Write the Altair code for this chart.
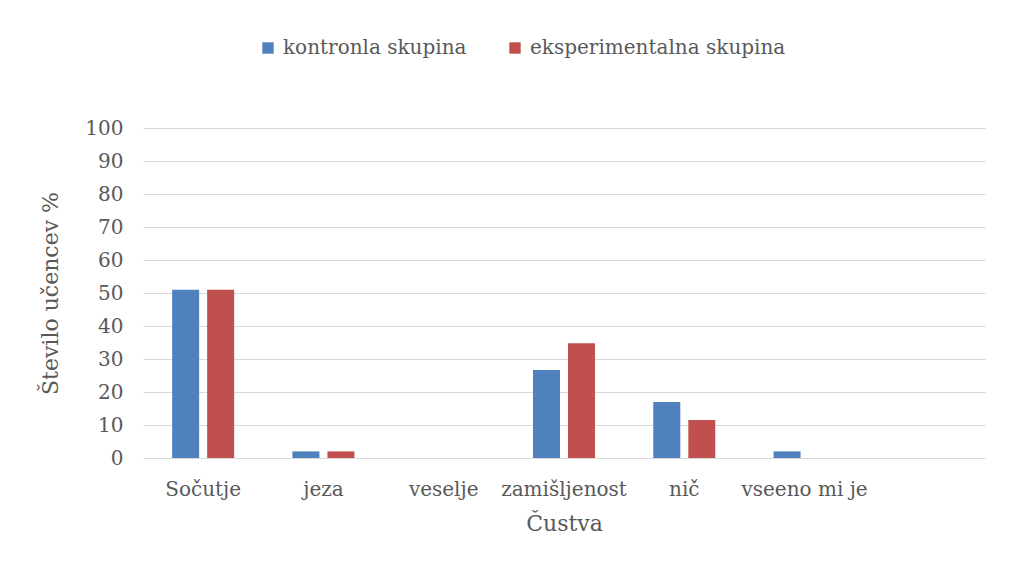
import altair as alt
import pandas as pd

categories = ["Sočutje", "jeza", "veselje", "zamišljenost", "nič", "vseeno mi je"]
axis_slots = categories + [" "]
groups = ["kontronla skupina", "eksperimentalna skupina"]
kontrolna = [51, 2, 0, 26.7, 17, 2]
eksperimentalna = [51, 2, 0, 34.8, 11.5, 0]
y_ticks = [0, 10, 20, 30, 40, 50, 60, 70, 80, 90, 100]
colors = ["#4f81bd", "#c0504d"]

rows = []
for c, v in zip(categories, kontrolna):
    rows.append({"Čustva": c, "skupina": groups[0], "vrednost": v})
for c, v in zip(categories, eksperimentalna):
    rows.append({"Čustva": c, "skupina": groups[1], "vrednost": v})
df = pd.DataFrame(rows)

FONT = "DejaVu Serif"
TXT = "#595959"

chart = alt.Chart(df).mark_bar().encode(
    x=alt.X("Čustva:N", sort=axis_slots,
            scale=alt.Scale(domain=axis_slots, paddingInner=0, paddingOuter=0),
            axis=alt.Axis(title="Čustva", labelAngle=0, ticks=False, domain=True,
                          domainColor="#d9d9d9", labelPadding=21, titlePadding=14,
                          labelFontSize=20, titleFontSize=22, labelColor=TXT,
                          titleColor=TXT, labelFont=FONT, titleFont=FONT,
                          titleFontWeight="normal", labelLimit=0)),
    xOffset=alt.XOffset("skupina:N", sort=groups,
                        scale=alt.Scale(domain=groups, paddingInner=0.2286, paddingOuter=0.833)),
    y=alt.Y("vrednost:Q",
            scale=alt.Scale(domain=[0, 100], nice=False),
            axis=alt.Axis(title="Število učencev %", values=y_ticks, ticks=False,
                          domain=False, gridColor="#d9d9d9", labelPadding=20,
                          titlePadding=22, labelFontSize=20, titleFontSize=22,
                          labelColor=TXT, titleColor=TXT, labelFont=FONT,
                          titleFont=FONT, titleFontWeight="normal")),
    color=alt.Color("skupina:N", sort=groups,
                    scale=alt.Scale(domain=groups, range=colors),
                    legend=alt.Legend(title=None, orient="none", direction="horizontal",
                                      legendX=115, legendY=-90, symbolType="square",
                                      symbolSize=130, symbolStrokeWidth=0,
                                      labelFontSize=20, labelFont=FONT, labelColor=TXT,
                                      labelOffset=5, columnPadding=38, labelLimit=0)),
).properties(
    width=842, height=330,
    padding={"left": 135, "top": 120, "right": 24, "bottom": 113},
    autosize=alt.AutoSizeParams(type="none"),
).configure_view(stroke=None)

chart.save("out.html", embed_options={"renderer": "svg", "actions": False})
